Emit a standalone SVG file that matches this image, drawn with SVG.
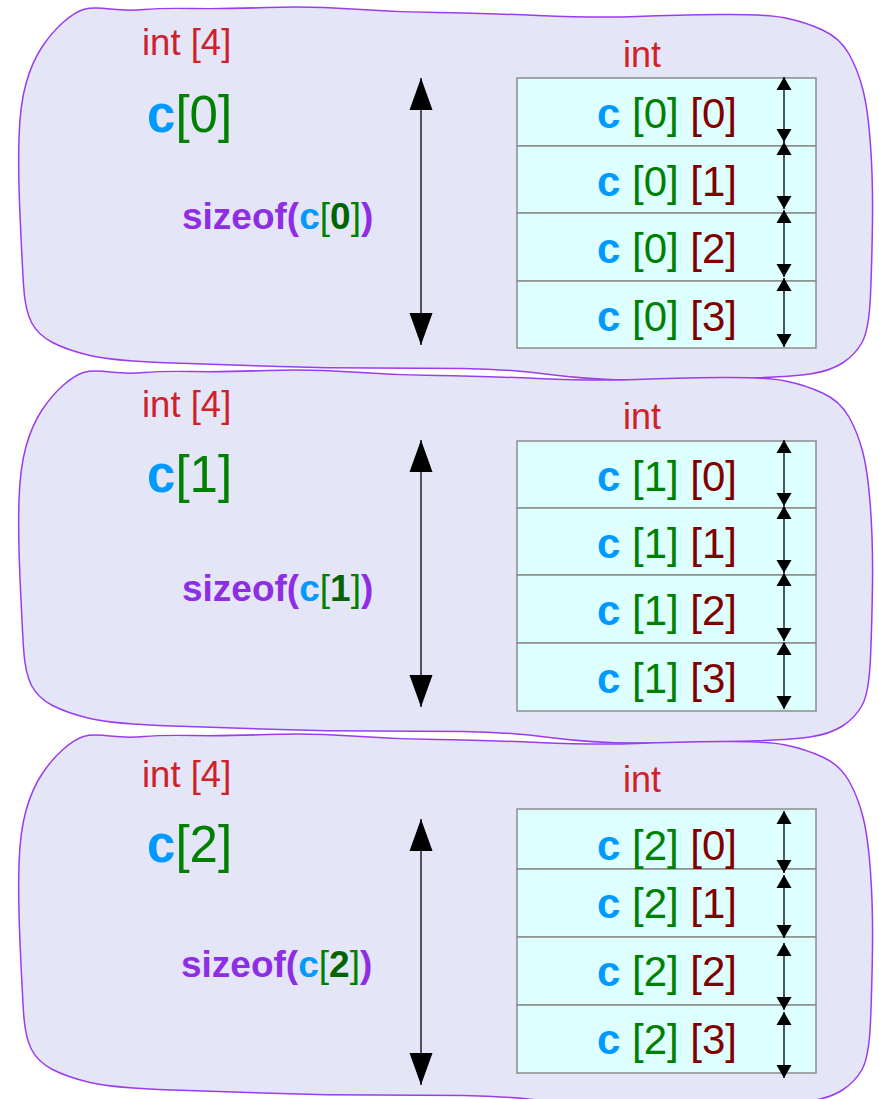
<svg xmlns="http://www.w3.org/2000/svg" width="879" height="1099" viewBox="0 0 879 1099">
<style>
text{font-family:"Liberation Sans",Arial,sans-serif}
.blob{fill:#e5e5f8;stroke:#9a3cef;stroke-width:1.5}
.cell{fill:#ddffff;stroke:#8c8c8c;stroke-width:1.5}
.red{fill:#d0202a;font-size:36.5px}
.big{font-size:51px}
.cl{font-size:42px}
.sz{font-size:37px;font-weight:bold;fill:#8e2ee4}
.b{fill:#0099ff;font-weight:bold}
.g{fill:#008000;font-weight:normal}
.dg{fill:#006400;font-weight:bold}
.m{fill:#800000}
.arr{stroke:#000;stroke-width:1.3;fill:none}
.big-arr{marker-start:url(#hb);marker-end:url(#hb)}
.sm-arr{marker-start:url(#hs);marker-end:url(#hs)}
</style>
<defs>
<path id="blobShape" d="M63.5,22 Q75,12 83.5,9.5 Q92,7 110,9 Q128,11 144,9.5 Q160,8 192.5,8.5 Q225,9 267.5,7.5 Q310,6 352,9 Q394,12 436.5,12.5 Q479,13 538,15.5 Q597,18 636.5,16.5 Q676,15 721,14.5 Q766,14 785.5,18 Q805,22 822.5,30 Q840,38 849,54 Q858,70 863,90 Q868,110 870.5,145 Q873,180 872.5,220 Q872,260 870.5,295 Q869,330 862,342.5 Q855,355 842.5,363 Q830,371 810,374 Q790,377 735,378.5 Q680,380 636,380 Q592,380 549.5,374.5 Q507,369 463.5,368.5 Q420,368 373.5,368 Q327,368 280,366.5 Q233,365 173,363 Q113,361 90,355.5 Q67,350 52.5,342.5 Q38,335 31.5,322.5 Q25,310 23.5,285 Q22,260 20,215 Q18,170 19,137.5 Q20,105 26,83.5 Q32,62 42,47 Q52,32 63.5,22 Z"/>
<marker id="hb" markerUnits="userSpaceOnUse" markerWidth="32" markerHeight="23" refX="32" refY="11.5" orient="auto-start-reverse" overflow="visible"><path d="M0,0 L32,11.5 L0,23 Z" fill="#000"/></marker>
<marker id="hs" markerUnits="userSpaceOnUse" markerWidth="13" markerHeight="15" refX="13" refY="7.5" orient="auto-start-reverse" overflow="visible"><path d="M0,0 L13,7.5 L0,15 Z" fill="#000"/></marker>
</defs>

<g id="block0">
<use href="#blobShape" class="blob"/>
<text x="142" y="55" class="red">int [4]</text>
<text x="147" y="132" class="big"><tspan class="b">c</tspan><tspan class="g">[0]</tspan></text>
<text x="182" y="229" class="sz">sizeof(<tspan class="b">c</tspan><tspan class="g">[</tspan><tspan class="dg">0</tspan><tspan class="g">]</tspan>)</text>
<text x="623" y="67" class="red" style="font-size:36px">int</text>
<rect x="517" y="78" width="299" height="68" class="cell"/>
<rect x="517" y="146" width="299" height="67" class="cell"/>
<rect x="517" y="213" width="299" height="68" class="cell"/>
<rect x="517" y="281" width="299" height="67" class="cell"/>
<text x="667" y="128" class="cl" text-anchor="middle"><tspan class="b">c</tspan> <tspan class="g">[0]</tspan> <tspan class="m">[0]</tspan></text>
<text x="667" y="196" class="cl" text-anchor="middle"><tspan class="b">c</tspan> <tspan class="g">[0]</tspan> <tspan class="m">[1]</tspan></text>
<text x="667" y="263" class="cl" text-anchor="middle"><tspan class="b">c</tspan> <tspan class="g">[0]</tspan> <tspan class="m">[2]</tspan></text>
<text x="667" y="331" class="cl" text-anchor="middle"><tspan class="b">c</tspan> <tspan class="g">[0]</tspan> <tspan class="m">[3]</tspan></text>
</g>

<g id="block1">
<use href="#blobShape" class="blob" transform="translate(0,363)"/>
<text x="142" y="417" class="red">int [4]</text>
<text x="147" y="492" class="big"><tspan class="b">c</tspan><tspan class="g">[1]</tspan></text>
<text x="182" y="601" class="sz">sizeof(<tspan class="b">c</tspan><tspan class="g">[</tspan><tspan class="dg">1</tspan><tspan class="g">]</tspan>)</text>
<text x="623" y="429" class="red" style="font-size:36px">int</text>
<rect x="517" y="441" width="299" height="67" class="cell"/>
<rect x="517" y="508" width="299" height="67" class="cell"/>
<rect x="517" y="575" width="299" height="68" class="cell"/>
<rect x="517" y="643" width="299" height="68" class="cell"/>
<text x="667" y="491" class="cl" text-anchor="middle"><tspan class="b">c</tspan> <tspan class="g">[1]</tspan> <tspan class="m">[0]</tspan></text>
<text x="667" y="558" class="cl" text-anchor="middle"><tspan class="b">c</tspan> <tspan class="g">[1]</tspan> <tspan class="m">[1]</tspan></text>
<text x="667" y="625" class="cl" text-anchor="middle"><tspan class="b">c</tspan> <tspan class="g">[1]</tspan> <tspan class="m">[2]</tspan></text>
<text x="667" y="693" class="cl" text-anchor="middle"><tspan class="b">c</tspan> <tspan class="g">[1]</tspan> <tspan class="m">[3]</tspan></text>
</g>

<g id="block2">
<use href="#blobShape" class="blob" transform="translate(0,727)"/>
<text x="142" y="787" class="red">int [4]</text>
<text x="147" y="862" class="big"><tspan class="b">c</tspan><tspan class="g">[2]</tspan></text>
<text x="181" y="977" class="sz">sizeof(<tspan class="b">c</tspan><tspan class="g">[</tspan><tspan class="dg">2</tspan><tspan class="g">]</tspan>)</text>
<text x="623" y="792" class="red" style="font-size:36px">int</text>
<rect x="517" y="809" width="299" height="60" class="cell"/>
<rect x="517" y="869" width="299" height="68" class="cell"/>
<rect x="517" y="937" width="299" height="68" class="cell"/>
<rect x="517" y="1005" width="299" height="68" class="cell"/>
<text x="667" y="860" class="cl" text-anchor="middle"><tspan class="b">c</tspan> <tspan class="g">[2]</tspan> <tspan class="m">[0]</tspan></text>
<text x="667" y="918" class="cl" text-anchor="middle"><tspan class="b">c</tspan> <tspan class="g">[2]</tspan> <tspan class="m">[1]</tspan></text>
<text x="667" y="986" class="cl" text-anchor="middle"><tspan class="b">c</tspan> <tspan class="g">[2]</tspan> <tspan class="m">[2]</tspan></text>
<text x="667" y="1054" class="cl" text-anchor="middle"><tspan class="b">c</tspan> <tspan class="g">[2]</tspan> <tspan class="m">[3]</tspan></text>
</g>

<g id="connectors">
<line x1="421" y1="78" x2="421" y2="345" class="arr big-arr"/>
<line x1="421" y1="440" x2="421" y2="707" class="arr big-arr"/>
<line x1="421" y1="819" x2="421" y2="1085" class="arr big-arr"/>
<line x1="784" y1="77" x2="784" y2="142" class="arr sm-arr"/>
<line x1="784" y1="142" x2="784" y2="209" class="arr sm-arr"/>
<line x1="784" y1="210" x2="784" y2="277" class="arr sm-arr"/>
<line x1="784" y1="278" x2="784" y2="347" class="arr sm-arr"/>
<line x1="784" y1="440" x2="784" y2="506" class="arr sm-arr"/>
<line x1="784" y1="506" x2="784" y2="573" class="arr sm-arr"/>
<line x1="784" y1="573" x2="784" y2="641" class="arr sm-arr"/>
<line x1="784" y1="642" x2="784" y2="709" class="arr sm-arr"/>
<line x1="784" y1="811" x2="784" y2="873" class="arr sm-arr"/>
<line x1="784" y1="875" x2="784" y2="938" class="arr sm-arr"/>
<line x1="784" y1="943" x2="784" y2="1010" class="arr sm-arr"/>
<line x1="784" y1="1012" x2="784" y2="1078" class="arr sm-arr"/>
</g>
</svg>
